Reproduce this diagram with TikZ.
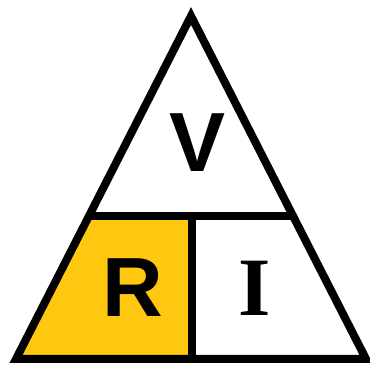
\documentclass[tikz,border=0pt]{standalone}
\usepackage{fontspec}
\setmainfont{Liberation Sans}
\newfontfamily\serifbold{Liberation Serif}
\definecolor{cellyellow}{RGB}{255,200,16}
\begin{document}
\begin{tikzpicture}[x=1pt,y=-1pt,
  edge/.style={line width=8pt,line join=miter,black},
  letter/.style={inner sep=0pt,font=\fontsize{84}{84}\selectfont\bfseries}]
\useasboundingbox (0,0) rectangle (370,366);
\coordinate (A) at (191,16);
\coordinate (L) at (16,359);
\coordinate (Rc) at (366,359);
\coordinate (ML) at (89,216);
\coordinate (MR) at (293,216);
\coordinate (MM) at (192,216);
\coordinate (MB) at (192,359);
\fill[cellyellow] (ML) -- (MM) -- (MB) -- (L) -- cycle;
\draw[edge] (A) -- (L) -- (Rc) -- cycle;
\draw[edge] (ML) -- (MR);
\draw[edge] (MM) -- (MB);
\node[letter] (V) at (198,142.5) {V};
\node[letter] (R) at (133,288) {R};
\node[letter,font=\fontsize{83}{83}\selectfont\serifbold\bfseries] (I) at (255,288) {I};
\end{tikzpicture}
\end{document}
